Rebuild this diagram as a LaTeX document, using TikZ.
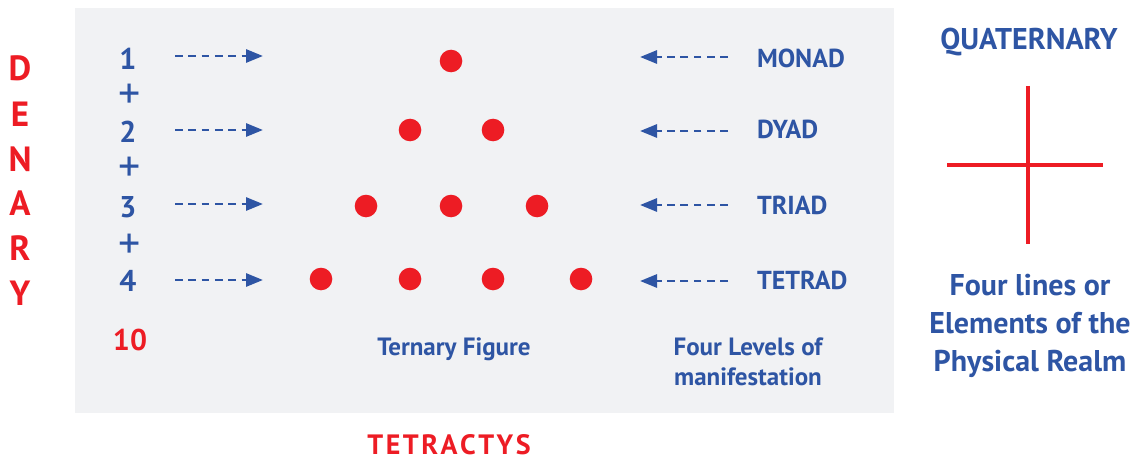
\documentclass[tikz,border=0pt]{standalone}
\usepackage{fontspec}
\setmainfont{PT Sans}
\usetikzlibrary{arrows.meta}
\definecolor{myred}{HTML}{ED1C24}
\definecolor{myblue}{HTML}{2E55A4}
\definecolor{panel}{HTML}{F1F2F4}
\newcommand{\fs}[1]{\fontsize{#1}{#1}\selectfont}
\tikzset{
  txt/.style={inner sep=0pt, outer sep=0pt},
  blue txt/.style={txt, text=myblue, font=\bfseries},
  dot/.style={circle, fill=myred, minimum size=22.6pt, inner sep=0pt},
  dasharrow/.style={myblue, line width=2.8pt, dash pattern=on 7.7pt off 5.6pt, -{Triangle[length=17pt,width=13pt]}},
}
\begin{document}
\begin{tikzpicture}[x=1pt,y=-1pt]
\useasboundingbox (0,0) rectangle (1141,460);
\fill[panel] (75,8) rectangle (894,413);
% DENARY
\foreach \l/\y/\n in {D/81/d1,E/126/d2,N/171/d3,A/215/d4,R/260/d5,Y/305/d6}
  \node[txt, anchor=base, text=myred, font=\bfseries\fs{35}] (\n) at (20,\y) {\l};
% numbers
\node[blue txt, anchor=base, font=\bfseries\fs{30}] (n1) at (128,70) {1};
\node[blue txt, anchor=base, font=\bfseries\fs{30}] (n2) at (128,142) {2};
\node[blue txt, anchor=base, font=\bfseries\fs{30}] (n3) at (128,217) {3};
\node[blue txt, anchor=base, font=\bfseries\fs{30}] (n4) at (128,291) {4};
\foreach \y/\n in {96/p1,169/p2,246/p3}
  \node[txt, text=myblue, font=\fs{44}] (\n) at (130,\y) {+};
\node[txt, anchor=base, text=myred, font=\bfseries\fs{30}] (ten) at (130,350) {10};
% arrows
\foreach \y/\n in {56/1,130/2,204/3,280/4}{
  \coordinate (ra\n) at (175,\y);
  \coordinate (rb\n) at (263,\y);
  \draw[dasharrow] (ra\n) -- (rb\n);
  \coordinate (la\n) at (728,\y+1);
  \coordinate (lb\n) at (640,\y+1);
  \draw[dasharrow] (la\n) -- (lb\n);
}
% dots
\node[dot] (a1) at (451,61) {};
\node[dot] (b1) at (410,130) {};
\node[dot] (b2) at (493,130) {};
\node[dot] (c1) at (366,206) {};
\node[dot] (c2) at (451,206) {};
\node[dot] (c3) at (537,206) {};
\node[dot] (e1) at (321,279) {};
\node[dot] (e2) at (410,279) {};
\node[dot] (e3) at (493,279) {};
\node[dot] (e4) at (581,279) {};
% labels
\node[blue txt, anchor=base west, font=\bfseries\fs{26}] (monad) at (757,67) {MONAD};
\node[blue txt, anchor=base west, font=\bfseries\fs{26}] (dyad) at (757,139) {DYAD};
\node[blue txt, anchor=base west, font=\bfseries\fs{26}] (triad) at (757,214) {TRIAD};
\node[blue txt, anchor=base west, font=\bfseries\fs{26}] (tetrad) at (757,289) {TETRAD};
\node[blue txt, anchor=base, font=\bfseries\fs{25}] (tern) at (454,355) {Ternary Figure};
\node[blue txt, anchor=base, font=\bfseries\fs{25}] (four1) at (748,355) {Four Levels of};
\node[blue txt, anchor=base, font=\bfseries\fs{25}] (four2) at (748,385) {manifestation};
\node[txt, anchor=base, text=myred, font=\bfseries\fs{28}] (tetr) at (449,454) {T\kern2.5pt E\kern2.5pt T\kern2.5pt R\kern2.5pt A\kern2.5pt C\kern2.5pt T\kern2.5pt Y\kern2.5pt S};
% quaternary
\node[blue txt, anchor=base, font=\bfseries\fs{30}] (quat) at (1029,50) {QUATERNARY};
\coordinate (vt) at (1028,86);
\coordinate (vb) at (1028,244);
\coordinate (hl) at (947,165);
\coordinate (hr) at (1103,165);
\draw[myred, line width=4.7pt] (vt) -- (vb);
\draw[myred, line width=4.7pt] (hl) -- (hr);
\node[blue txt, anchor=base, font=\bfseries\fs{30}] (q1) at (1030,295) {Four lines or};
\node[blue txt, anchor=base, font=\bfseries\fs{30}] (q2) at (1030,333) {Elements of the};
\node[blue txt, anchor=base, font=\bfseries\fs{30}] (q3) at (1030,371) {Physical Realm};
\end{tikzpicture}
\end{document}
